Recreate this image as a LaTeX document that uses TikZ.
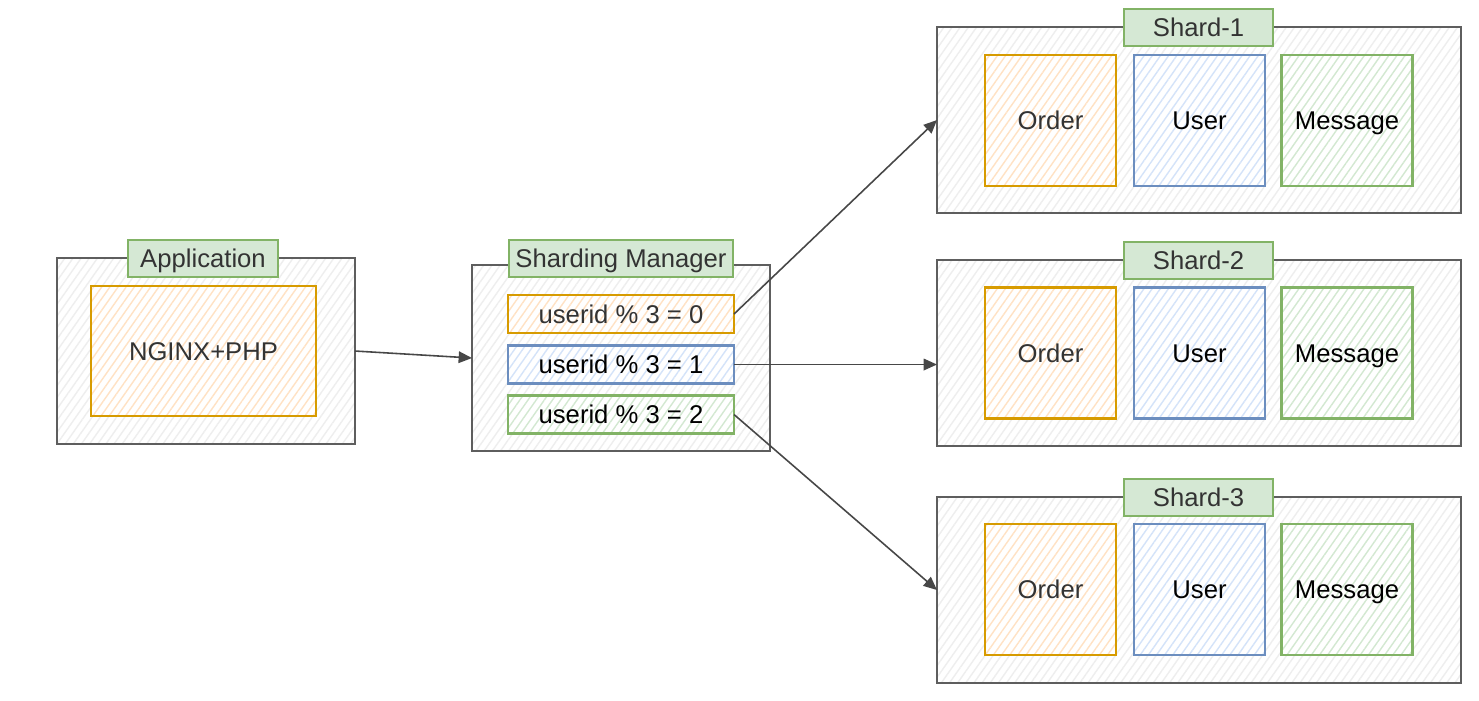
\documentclass[tikz,border=0pt]{standalone}
\usepackage{fontspec}
\setmainfont{Liberation Sans}
\usetikzlibrary{patterns.meta}
\usetikzlibrary{arrows.meta}

\definecolor{orangeline}{HTML}{D79B00}
\definecolor{orangehatch}{HTML}{FFE2C4}
\definecolor{blueline}{HTML}{6C8EBF}
\definecolor{bluehatch}{HTML}{D4E3F9}
\definecolor{greenline}{HTML}{82B366}
\definecolor{greenhatch}{HTML}{D3E8D1}
\definecolor{greenfill}{HTML}{D5E8D4}
\definecolor{greyline}{HTML}{5E5E5E}
\definecolor{greyhatch}{HTML}{EEEEEE}
\definecolor{darktext}{HTML}{333333}
\definecolor{arrowgrey}{HTML}{474747}

\tikzset{
  hatched/.style={preaction={fill=white},
    pattern={Lines[angle=55,distance=1.9pt,line width=0.4pt]},
    pattern color=#1},
}

\begin{document}
\begin{tikzpicture}
  \tikzstyle{every node}=[inner sep=0pt,outer sep=0pt,font=\fontsize{7.3}{8.8}\selectfont,
    text height=0.72em,text depth=0.2em]
  \tikzstyle{outerbox}=[rectangle,draw=greyline,line width=0.55pt,hatched=greyhatch,
    minimum width=2.98cm,minimum height=1.86cm]
  \tikzstyle{shardbox}=[outerbox,minimum width=5.24cm]
  \tikzstyle{tag}=[rectangle,draw=greenline,fill=greenfill,line width=0.5pt,
    minimum height=0.37cm,text=darktext]
  \tikzstyle{ordertable}=[rectangle,draw=orangeline,line width=0.65pt,hatched=orangehatch,
    minimum size=1.31cm,text=darktext]
  \tikzstyle{usertable}=[ordertable,draw=blueline,hatched=bluehatch,text=black]
  \tikzstyle{msgtable}=[ordertable,draw=greenline,hatched=greenhatch,text=black]
  \tikzstyle{rule}=[rectangle,line width=0.65pt,minimum width=2.26cm,minimum height=0.38cm]
  \tikzstyle{link}=[draw=arrowgrey,line width=0.45pt,-{Triangle[length=3.8pt,width=3.3pt]}]

  \useasboundingbox (0,0) rectangle (14.79,-7);

  % application
  \node[outerbox] (app) at (2.06,-3.51) {};
  \node[ordertable,minimum width=2.25cm,minimum height=1.30cm] (nginx) at (2.035,-3.51) {NGINX+PHP};
  \node[tag,minimum width=1.50cm] (applabel) at (2.03,-2.585) {Application};

  % sharding manager
  \node[outerbox] (manager) at (6.21,-3.58) {};
  \node[tag,minimum width=2.24cm] (managerlabel) at (6.21,-2.585) {Sharding Manager};
  \node[rule,draw=orangeline,hatched=orangehatch,text=darktext] (rule0) at (6.21,-3.14) {userid \% 3 = 0};
  \node[rule,draw=blueline,hatched=bluehatch] (rule1) at (6.21,-3.645) {userid \% 3 = 1};
  \node[rule,draw=greenline,hatched=greenhatch] (rule2) at (6.21,-4.145) {userid \% 3 = 2};

  % shard 1
  \node[shardbox] (shard1) at (11.99,-1.20) {};
  \node[tag,minimum width=1.49cm] (shard1label) at (11.985,-0.275) {Shard-1};
  \node[ordertable] (order1) at (10.505,-1.205) {Order};
  \node[usertable] (user1) at (11.995,-1.205) {User};
  \node[msgtable] (msg1) at (13.47,-1.205) {Message};

  % shard 2
  \node[shardbox] (shard2) at (11.99,-3.53) {};
  \node[tag,minimum width=1.49cm] (shard2label) at (11.985,-2.605) {Shard-2};
  \node[ordertable] (order2) at (10.505,-3.53) {Order};
  \node[usertable] (user2) at (11.995,-3.53) {User};
  \node[msgtable] (msg2) at (13.47,-3.53) {Message};

  % shard 3
  \node[shardbox] (shard3) at (11.99,-5.90) {};
  \node[tag,minimum width=1.49cm] (shard3label) at (11.985,-4.975) {Shard-3};
  \node[ordertable] (order3) at (10.505,-5.895) {Order};
  \node[usertable] (user3) at (11.995,-5.895) {User};
  \node[msgtable] (msg3) at (13.47,-5.895) {Message};

  % routing
  \draw[link] (app.east) -- (manager.west);
  \draw[link] (rule0.east) -- (shard1.west);
  \draw[link] (rule1.east) -- (rule1.east -| shard2.west);
  \draw[link] (rule2.east) -- (shard3.west);
\end{tikzpicture}
\end{document}
